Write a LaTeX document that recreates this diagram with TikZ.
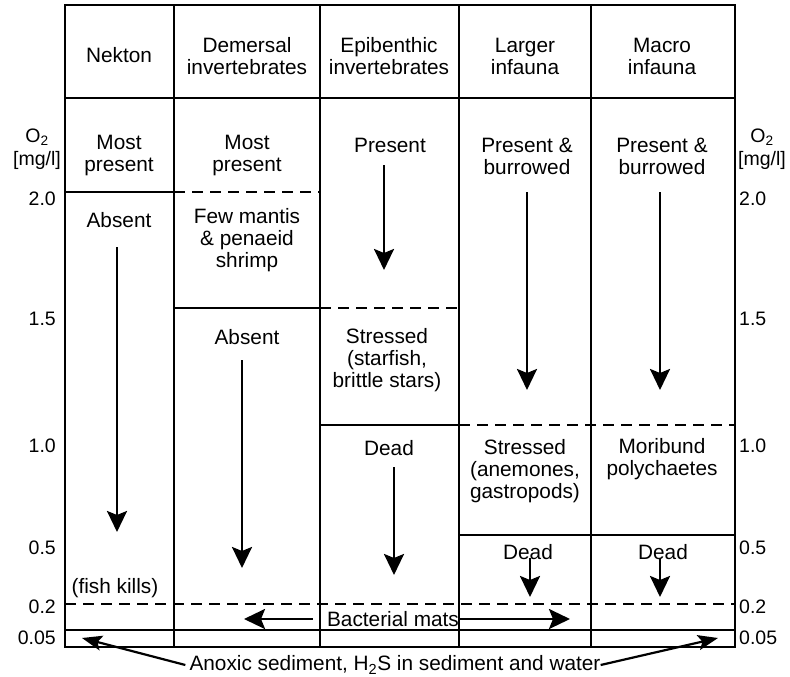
\documentclass[tikz,border=0pt]{standalone}
\usepackage{fontspec}
\setmainfont{Liberation Sans}
\usetikzlibrary{arrows.meta}
\begin{document}
\begin{tikzpicture}[x=1pt,y=-1pt,
  outer/.style={line width=1.8pt},
  gridline/.style={line width=2.6pt},
  dgrid/.style={line width=2.6pt, dash pattern=on 11pt off 7pt},
  arr/.style={line width=2.7pt, -{Stealth[length=21pt,width=20pt,inset=4pt]}},
  arrs/.style={line width=2.2pt, -{Stealth[length=20pt,width=15pt,inset=4pt]}},
  lbl/.style={font=\fontsize{20.8}{22}\selectfont, align=center, inner sep=0pt},
  num/.style={font=\fontsize{19.5}{22}\selectfont, inner sep=0pt}
]
\useasboundingbox (0,0) rectangle (790,677);

% frame
\draw[outer] (65,5) rectangle (735,647);
% verticals
\foreach \x in {174,320,459,591} \draw[gridline] (\x,5) -- (\x,647);
% horizontals
\draw[gridline] (65,98) -- (735,98);
\draw[gridline] (65,192) -- (174,192);
\draw[dgrid] (174,192) -- (320,192);
\draw[gridline] (174,308) -- (320,308);
\draw[dgrid] (320,308) -- (459,308);
\draw[gridline] (320,425) -- (459,425);
\draw[dgrid] (459,425) -- (735,425);
\draw[gridline] (459,535) -- (735,535);
\draw[dgrid] (65,604) -- (735,604);
\draw[gridline] (65,630) -- (735,630);

% header
\node[lbl] (hN) at (119,55) {Nekton};
\node[lbl] (hD) at (247,56) {Demersal\\invertebrates};
\node[lbl] (hE) at (389,56) {Epibenthic\\invertebrates};
\node[lbl] (hL) at (525,56) {Larger\\infauna};
\node[lbl] (hM) at (662,56) {Macro\\infauna};

% cells
\node[lbl] (nk1) at (119,156) {Most\\present};
\node[lbl] (dm1) at (247,156) {Most\\present};
\node[lbl] (ep1) at (390,145) {Present};
\node[lbl] (li1) at (527,156) {Present \&\\burrowed};
\node[lbl] (mi1) at (662,156) {Present \&\\burrowed};
\node[lbl] (nk2) at (119,220) {Absent};
\node[lbl] (dm2) at (247,240) {Few mantis\\\& penaeid\\shrimp};
\node[lbl] (dm3) at (247,337) {Absent};
\node[lbl] (ep2) at (387,360) {Stressed\\(starfish,\\brittle stars)};
\node[lbl] (ep3) at (389,448) {Dead};
\node[lbl] (li2) at (525,471) {Stressed\\(anemones,\\gastropods)};
\node[lbl] (mi2) at (662,459) {Moribund\\polychaetes};
\node[lbl] (li3) at (528,552) {Dead};
\node[lbl] (mi3) at (663,552) {Dead};
\node[lbl] (fk) at (115,588) {(fish kills)};

% axis labels
\node[num] (o2L) at (37,137) {O\textsubscript{2}};
\node[num] (mgL) at (37,160) {[mg/l]};
\node[num] (o2R) at (762,137) {O\textsubscript{2}};
\node[num] (mgR) at (762,160) {[mg/l]};
\foreach \v/\y/\n in {2.0/199/a,1.5/319/b,1.0/446/c,0.5/548/d,0.2/607/e,0.05/638/f}{
  \node[num,anchor=east] (L\n) at (56,\y) {\v};
  \node[num,anchor=west] (R\n) at (739,\y) {\v};
}

% vertical arrows
\coordinate (a1s) at (117,247); \coordinate (a1e) at (117,532);
\coordinate (a2s) at (242,360); \coordinate (a2e) at (242,568);
\coordinate (a3s) at (384,165); \coordinate (a3e) at (384,270);
\coordinate (a4s) at (394,467); \coordinate (a4e) at (394,575);
\coordinate (a5s) at (527,192); \coordinate (a5e) at (527,390);
\coordinate (a6s) at (660,192); \coordinate (a6e) at (660,390);
\coordinate (a7s) at (530,558); \coordinate (a7e) at (530,597);
\coordinate (a8s) at (660,558); \coordinate (a8e) at (660,597);
\foreach \i in {1,...,8} \draw[arr] (a\i s) -- (a\i e);

% bacterial mats
\node[lbl] (bm) at (393,619) {Bacterial mats};
\coordinate (bmL) at (244,619);
\coordinate (bmR) at (570,619);
\draw[arr] ([xshift=-14pt]bm.west) -- (bmL);
\draw[arr] (bm.east) -- (bmR);

% anoxic
\node[lbl] (ax) at (395,665) {Anoxic sediment, H\textsubscript{2}S in sediment and water};
\coordinate (axL) at (82,638);
\coordinate (axR) at (718,638);
\draw[arrs] ([xshift=-4pt]ax.west) -- (axL);
\draw[arrs] (ax.east) -- (axR);
\end{tikzpicture}
\end{document}
